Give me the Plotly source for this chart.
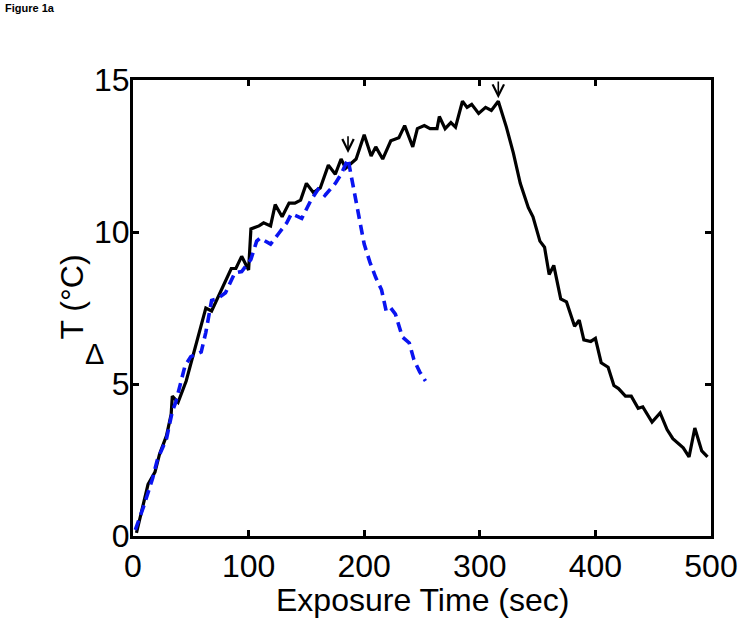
import plotly.graph_objects as go

# Black solid series (longer exposure)
t_black = [3, 13, 19, 23, 29, 33, 34, 39, 46, 53, 63, 68, 75, 85, 89, 94, 100, 102, 109, 113,
           119, 123, 129, 135, 140, 145, 150, 156, 162, 169, 175, 180, 184, 193, 200, 206, 210,
           216, 223, 230, 235, 242, 246, 252, 257, 263, 265, 270, 275, 279, 285, 289, 293, 299,
           305, 310, 316, 323, 329, 335, 342, 346, 352, 356, 360, 364, 370, 375, 382, 386, 390,
           396, 400, 405, 411, 416, 420, 426, 431, 437, 441, 449, 456, 462, 467, 476, 481, 486,
           492, 497]
dT_black = [0.1, 1.7, 2.1, 2.7, 3.3, 4.0, 4.6, 4.4, 5.1, 6.1, 7.5, 7.4, 8.0, 8.8, 8.8, 9.2, 8.75,
            10.1, 10.2, 10.3, 10.2, 10.9, 10.5, 10.95, 10.95, 11.05, 11.6, 11.3, 11.45, 12.2, 11.9,
            12.4, 12.1, 12.4, 13.2, 12.5, 12.8, 12.4, 13.0, 13.1, 13.5, 12.8, 13.4, 13.5, 13.4,
            13.4, 13.8, 13.4, 13.6, 13.45, 14.3, 14.1, 14.2, 13.9, 14.1, 14.0, 14.3, 13.45, 12.6,
            11.6, 10.8, 10.5, 9.7, 9.5, 8.6, 8.9, 7.8, 7.7, 6.9, 7.1, 6.45, 6.4, 6.5, 5.7, 5.55,
            4.95, 4.85, 4.6, 4.6, 4.2, 4.25, 3.75, 4.05, 3.5, 3.2, 2.9, 2.6, 3.55, 2.8, 2.6]

# Blue dashed series (shorter exposure)
t_blue = [2, 9, 17, 21, 29, 34, 37, 45, 50, 59, 63, 68, 73, 80, 88, 94, 102, 107, 110, 119, 126,
          133, 137, 146, 154, 160, 166, 175, 180, 186, 189, 196, 200, 205, 210, 215, 219, 223,
          227, 233, 239, 243, 248, 253]
dT_blue = [0.2, 0.95, 1.9, 2.5, 3.2, 4.1, 4.4, 5.6, 5.9, 6.05, 6.7, 7.75, 7.8, 8.0, 8.65, 8.7,
           9.1, 9.7, 9.8, 9.6, 9.95, 10.3, 10.6, 10.45, 11.05, 11.4, 11.2, 11.6, 11.9, 12.4, 11.8,
           10.4, 9.6, 9.0, 8.5, 8.1, 7.4, 7.5, 7.3, 6.55, 6.35, 5.8, 5.4, 5.1]

x_ticks = [0, 100, 200, 300, 400, 500]
y_ticks = [0, 5, 10, 15]

# Arrow markers: (x, head y, tail y)
arrows = [(186, 12.6, 13.2), (316, 14.4, 15.0)]

FONT = "Liberation Sans, Arial, sans-serif"

fig = go.Figure()
fig.add_trace(go.Scatter(x=t_black, y=dT_black, mode="lines",
                         line=dict(color="black", width=3.2), showlegend=False))
fig.add_trace(go.Scatter(x=t_blue, y=dT_blue, mode="lines",
                         line=dict(color="#0a14f0", width=3.6, dash="10px,6px"),
                         showlegend=False))

axis_common = dict(showline=True, linecolor="black", linewidth=3, mirror="ticks",
                   ticks="inside", ticklen=6, tickwidth=2.5, tickcolor="black",
                   showgrid=False, zeroline=False,
                   tickfont=dict(family=FONT, size=32, color="black"))

fig.update_xaxes(range=[0, 500], tickvals=x_ticks, ticklabelstandoff=0, **axis_common)
fig.update_yaxes(range=[0, 15], tickvals=y_ticks, ticklabelstandoff=-6, **axis_common)

annotations = [
    dict(text="Exposure Time (sec)", x=0.5, y=-0.14, xref="paper", yref="paper",
         xanchor="center", yanchor="middle", showarrow=False,
         font=dict(family=FONT, size=32, color="black")),
    dict(text="T (°C)", x=(71 - 133) / 583, y=(536 - 297) / 456, xref="paper", yref="paper",
         xanchor="center", yanchor="middle", showarrow=False, textangle=-90,
         font=dict(family=FONT, size=32, color="black")),
    dict(text="Δ", x=(94 - 133) / 583, y=(536 - 354) / 456, xref="paper", yref="paper",
         xanchor="center", yanchor="middle", showarrow=False,
         font=dict(family=FONT, size=29, color="black")),
    dict(text="<b>Figure 1a</b>", x=-0.225, y=1.158, xref="paper", yref="paper",
         xanchor="left", yanchor="middle", showarrow=False,
         font=dict(family=FONT, size=11, color="black")),
]
for ax_x, head_y, tail_y in arrows:
    annotations.append(dict(x=ax_x, y=head_y, ax=ax_x, ay=tail_y, xref="x", yref="y",
                            axref="x", ayref="y", text="", showarrow=True,
                            arrowhead=5, arrowsize=1.4, arrowwidth=1.6, arrowcolor="black"))

fig.update_layout(width=750, height=622, margin=dict(l=133, r=34, t=80, b=86),
                  paper_bgcolor="white", plot_bgcolor="white",
                  annotations=annotations)

fig.write_html("out.html", config={"displayModeBar": False},
               post_script="document.body.style.margin='0';")
